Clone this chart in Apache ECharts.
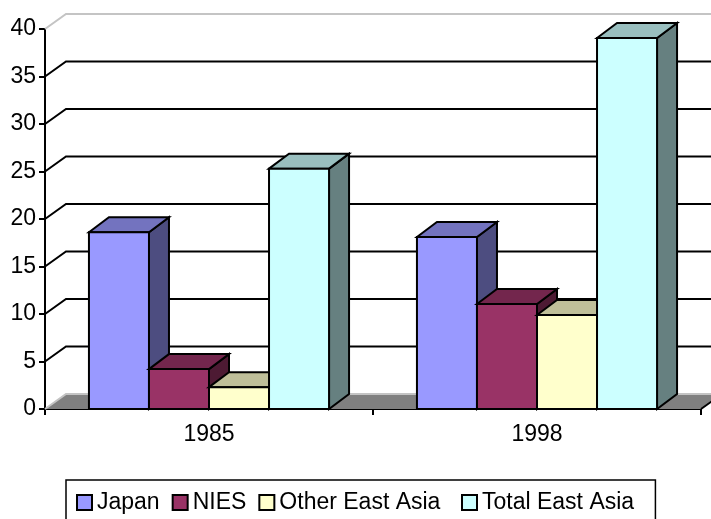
<!DOCTYPE html>
<html>
<head>
<meta charset="utf-8">
<style>
  html, body { margin: 0; padding: 0; background: #fff; overflow: hidden; }
  #chart { width: 711px; height: 519px; }
</style>
<script src="https://cdn.jsdelivr.net/npm/echarts@6/dist/echarts.min.js"></script>
</head>
<body>
<div id="chart"></div>
<script>
const categories = ["1985", "1998"];
const japan = [18.6, 18.1];
const nies = [4.2, 11.05];
const otherEastAsia = [2.3, 9.9];
const totalEastAsia = [25.3, 39.05];
const yTicks = [0, 5, 10, 15, 20, 25, 30, 35, 40];

const depthX = 21;
const barDepthX = 20;
const depthY = -15;
const barWidthShare = 0.134;
const font = "'Liberation Sans', Arial, sans-serif";

function shade(hex, k) {
  const n = parseInt(hex.slice(1), 16);
  const c = [n >> 16, (n >> 8) & 255, n & 255].map((v) => Math.round(v * k));
  return `rgb(${c.join(",")})`;
}

function poly(points, fill, lineWidth) {
  return {
    type: "polygon",
    shape: { points },
    style: { fill, stroke: "#000", lineWidth, lineJoin: "miter" },
  };
}

// back wall lines and the floor, all hung on the value axis
function renderWall(params, api) {
  const value = api.value(0);
  const y = api.coord([0, value])[1];
  const left = params.coordSys.x;
  const right = left + params.coordSys.width;
  const children = [];
  const grey = value === 0 || value === 40;
  if (value === 0) {
    children.push({
      type: "polygon",
      shape: {
        points: [
          [left, y],
          [left + depthX, y + depthY],
          [right + depthX, y + depthY],
          [right, y],
        ],
      },
      style: { fill: "#808080" },
    });
    children.push({
      type: "line",
      shape: { x1: right, y1: y, x2: right + depthX, y2: y + depthY },
      style: { stroke: "#000", lineWidth: 2 },
    });
  }
  children.push({
    type: "polyline",
    shape: {
      points: [
        [left, y],
        [left + depthX, y + depthY],
        [right + depthX, y + depthY],
      ],
    },
    style: { fill: null, stroke: grey ? "#c4c4c4" : "#000", lineWidth: 2 },
  });
  return { type: "group", children };
}

function renderBar(slot, color) {
  return function (params, api) {
    const cat = api.value(0);
    const top = api.coord([cat, api.value(1)]);
    const base = api.coord([cat, 0]);
    const band = api.size([1, 0])[0];
    const barWidth = (band * (1 - 2 * barWidthShare)) / 4;
    const x0 = top[0] - band / 2 + band * barWidthShare + slot * barWidth;
    const x1 = x0 + barWidth;
    const yTop = top[1];
    const yBase = base[1];
    return {
      type: "group",
      children: [
        poly(
          [
            [x1, yTop],
            [x1 + barDepthX, yTop + depthY],
            [x1 + barDepthX, yBase + depthY],
            [x1, yBase],
          ],
          shade(color, 0.5),
          2
        ),
        poly(
          [
            [x0, yTop],
            [x0 + barDepthX, yTop + depthY],
            [x1 + barDepthX, yTop + depthY],
            [x1, yTop],
          ],
          shade(color, 0.75),
          2
        ),
        poly(
          [
            [x0, yTop],
            [x1, yTop],
            [x1, yBase],
            [x0, yBase],
          ],
          color,
          2
        ),
      ],
    };
  };
}

function barSeries(name, values, slot, color) {
  return {
    name,
    type: "custom",
    renderItem: renderBar(slot, color),
    encode: { x: 0, y: 1 },
    data: values.map((v, i) => [i, v]),
    itemStyle: { color, borderColor: "#000", borderWidth: 1.5 },
    z: 5,
    animation: false,
  };
}

const legendBase = {
  orient: "horizontal",
  itemGap: 12,
  itemWidth: 15,
  itemHeight: 15,
  icon: "rect",
  textStyle: { color: "#000", fontSize: 23, fontFamily: font },
};

const chart = echarts.init(document.getElementById("chart"), null, { renderer: "canvas" });
chart.setOption({
  animation: false,
  backgroundColor: "#fff",
  grid: { left: 45, right: 10, top: 29, bottom: 110 },
  xAxis: {
    type: "category",
    data: categories,
    axisLine: { lineStyle: { color: "#000", width: 2 } },
    axisTick: { show: true, length: 6, lineStyle: { color: "#000", width: 2 } },
    axisLabel: { color: "#000", fontSize: 23, fontFamily: font, margin: 14 },
  },
  yAxis: {
    type: "value",
    min: 0,
    max: 40,
    interval: 5,
    splitLine: { show: false },
    axisLine: { show: true, lineStyle: { color: "#000", width: 2 } },
    axisTick: { show: true, length: 6, lineStyle: { color: "#000", width: 2 } },
    axisLabel: { color: "#000", fontSize: 23, fontFamily: font, margin: 9, padding: [3, 0, 0, 0] },
  },
  // two legends so the last entry can sit where the reference has it; the first draws the box
  legend: [
    {
      ...legendBase,
      data: ["Japan", "NIES", "Other East Asia"],
      left: 66,
      top: 480,
      padding: [11, 215, 20, 10],
      borderColor: "#000",
      borderWidth: 1.5,
    },
    {
      ...legendBase,
      data: ["Total East Asia"],
      left: 461,
      top: 491,
      padding: 0,
    },
  ],
  series: [
    {
      name: "wall",
      type: "custom",
      renderItem: renderWall,
      encode: { y: 0 },
      data: yTicks.map((v) => [v]),
      silent: true,
      z: 1,
    },
    barSeries("Japan", japan, 0, "#9999FF"),
    barSeries("NIES", nies, 1, "#993366"),
    barSeries("Other East Asia", otherEastAsia, 2, "#FFFFCC"),
    barSeries("Total East Asia", totalEastAsia, 3, "#CCFFFF"),
  ],
});
</script>
</body>
</html>
